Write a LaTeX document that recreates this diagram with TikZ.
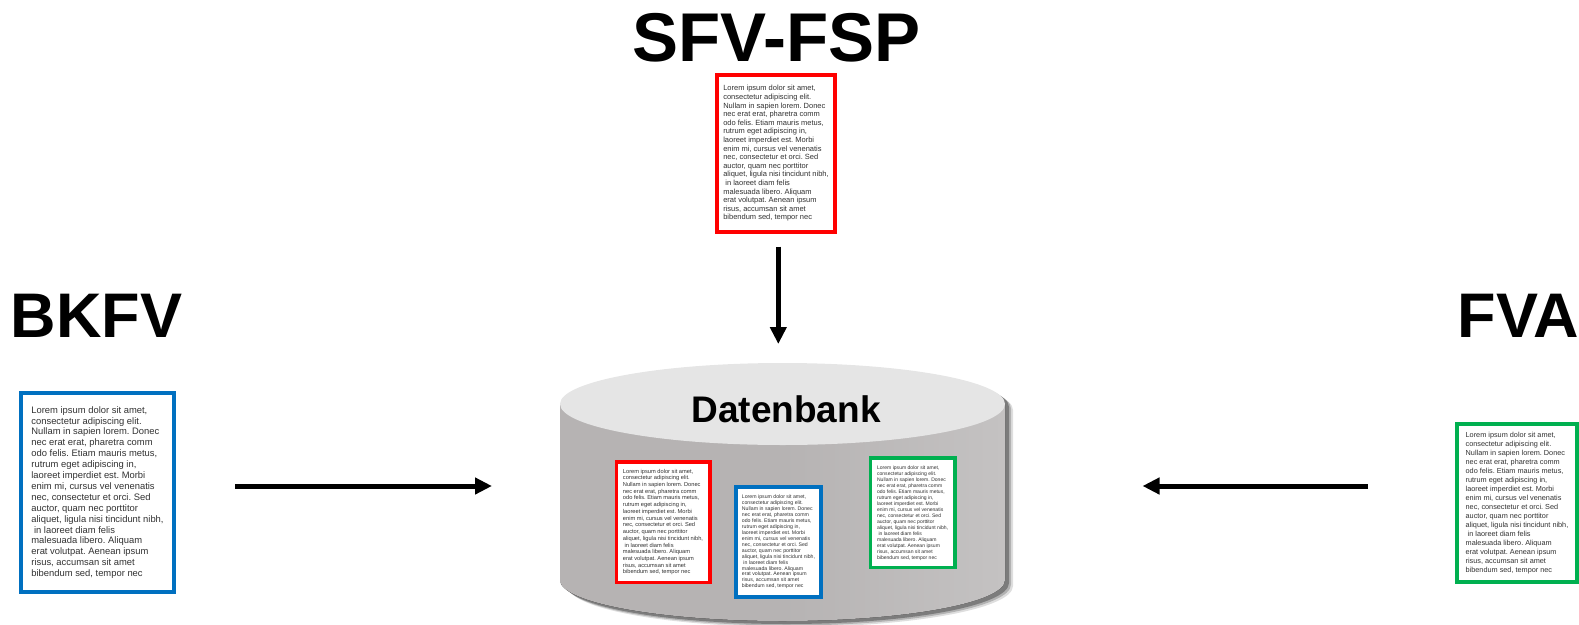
\documentclass[tikz,border=0pt]{standalone}
\usepackage{fontspec}
\setmainfont{Liberation Sans}
\usetikzlibrary{arrows.meta}
\definecolor{docred}{RGB}{255,0,0}
\definecolor{docblue}{RGB}{0,112,192}
\definecolor{docgreen}{RGB}{0,176,80}
\definecolor{cyltop}{RGB}{229,229,229}
\definecolor{cylbody}{RGB}{182,179,179}
\definecolor{cylbodylight}{RGB}{196,194,194}
\definecolor{doctext}{RGB}{50,50,50}
\frenchspacing
\newcommand{\loremlines}{Lorem ipsum dolor sit amet,\\
consectetur adipiscing elit.\\
Nullam in sapien lorem. Donec\\
nec erat erat, pharetra comm\\
odo felis. Etiam mauris metus,\\
rutrum eget adipiscing in,\\
laoreet imperdiet est. Morbi\\
enim mi, cursus vel venenatis\\
nec, consectetur et orci. Sed\\
auctor, quam nec porttitor\\
aliquet, ligula nisi tincidunt nibh,\\
\hspace*{0.28em}in laoreet diam felis\\
malesuada libero. Aliquam\\
erat volutpat. Aenean ipsum\\
risus, accumsan sit amet\\
bibendum sed, tempor nec}
\begin{document}
\begin{tikzpicture}[x=1pt,y=-1pt,
  docbox/.style={draw, fill=white, text=doctext, align=left, inner sep=0pt},
  bigtitle/.style={font=\bfseries\fontsize{63}{63}\selectfont, inner sep=0pt},
  arr/.style={line width=5pt, -{Triangle[length=17pt,width=16pt]}},
  cylshadow/.style={fill=black, opacity=#1}]
\useasboundingbox (0,0) rectangle (1579,624);

% titles
\node[bigtitle, font=\bfseries\fontsize{69}{69}\selectfont, anchor=base] (sfvtitle) at (776.5,61) {SFV-FSP};
\node[bigtitle, anchor=base west] (bkfvtitle) at (10.5,337) {BKFV};
\node[bigtitle, anchor=base west] (fvatitle) at (1457.5,337) {FVA};

% outer documents
\node[docbox, draw=docred, line width=4pt, minimum width=118pt, minimum height=157pt,
      font=\fontsize{7.5}{8.6}\selectfont] (sfvdoc) at (776,153.5) {\loremlines};
\node[docbox, draw=docblue, line width=4pt, minimum width=153pt, minimum height=199pt,
      font=\fontsize{9.4}{10.9}\selectfont] (bkfvdoc) at (97.5,492.5) {\loremlines};
\node[docbox, draw=docgreen, line width=4pt, minimum width=120pt, minimum height=158pt,
      font=\fontsize{7.3}{9.0}\selectfont] (fvadoc) at (1517,503) {\loremlines};

% cylinder shadow
\foreach \dx/\dy/\o in {8/6/0.13,6/4.5/0.2,4/3/0.3}{
  \fill[cylshadow=\o, shift={(\dx,\dy)}] (560,580)
    arc[start angle=180,end angle=360,x radius=222.5pt,y radius=41pt] -- (1005,404)
    arc[start angle=0,end angle=180,x radius=222.5pt,y radius=41pt] -- cycle;
}
% cylinder body and top
\fill[left color=cylbody, right color=cylbodylight, middle color=cylbody] (560,404) -- (560,580)
  arc[start angle=180,end angle=360,x radius=222.5pt,y radius=41pt] -- (1005,404) -- cycle;
\fill[cyltop] (782.5,404) ellipse[x radius=222.5pt,y radius=41pt];
\node[font=\bfseries\fontsize{37}{37}\selectfont, inner sep=0pt, anchor=base] (dbtitle) at (786,422) {Datenbank};

% documents in database
\node[docbox, draw=docred, line width=3.5pt, minimum width=93.5pt, minimum height=120.5pt,
      font=\fontsize{5.7}{6.73}\selectfont] (dbred) at (663,522) {\loremlines};
\node[docbox, draw=docblue, line width=3.5pt, minimum width=85pt, minimum height=110pt,
      font=\fontsize{5.2}{5.93}\selectfont] (dbblue) at (778.5,542) {\loremlines};
\node[docbox, draw=docgreen, line width=3.5pt, minimum width=84.7pt, minimum height=109.7pt,
      font=\fontsize{5.05}{6.0}\selectfont] (dbgreen) at (912.6,512.8) {\loremlines};

% arrows
\coordinate (leftstart) at (235,486);
\coordinate (lefttip) at (492,486);
\coordinate (rightstart) at (1368,486);
\coordinate (righttip) at (1142.5,486);
\coordinate (downstart) at (778.3,246.5);
\coordinate (downtip) at (778.3,344);
\draw[arr] (leftstart) -- (lefttip);
\draw[arr] (rightstart) -- (righttip);
\draw[arr] (downstart) -- (downtip);
\end{tikzpicture}
\end{document}
